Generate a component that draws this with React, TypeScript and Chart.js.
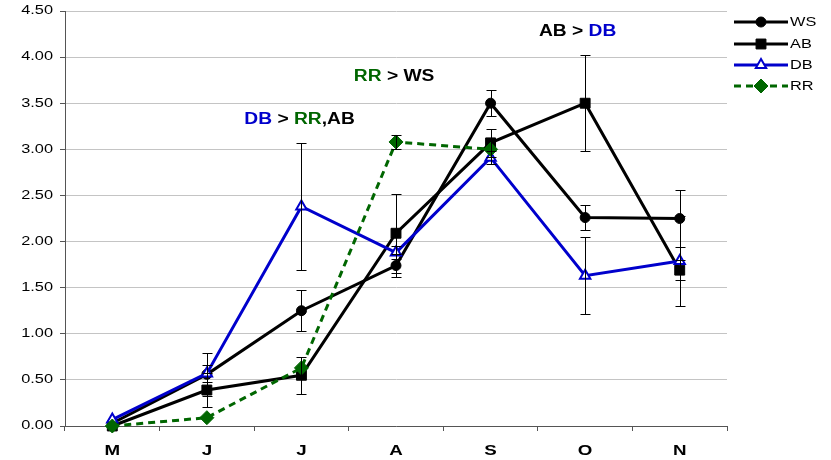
import { useEffect, useRef } from 'react';
import { Chart, registerables } from 'chart.js';
import { drawPoint } from 'chart.js/helpers';

Chart.register(...registerables);

// Sampling months
const months = ['M', 'J', 'J', 'A', 'S', 'O', 'N'];

// Series means and symmetric error bar half-widths
const wsMean = [0.03, 0.56, 1.25, 1.74, 3.5, 2.26, 2.25];
const wsErr = [0, 0.23, 0.22, 0.12, 0.14, 0.14, 0.31];
const abMean = [0.0, 0.39, 0.55, 2.09, 3.07, 3.5, 1.69];
const abErr = [0, 0.18, 0.2, 0.43, 0.15, 0.52, 0.11];
const dbMean = [0.07, 0.57, 2.38, 1.88, 2.91, 1.63, 1.79];
const dbErr = [0, 0.09, 0.69, 0.07, 0.07, 0.42, 0.49];
const rrMean = [0.0, 0.09, 0.63, 3.08, 3.0, null, null];
const rrErr = [0, 0, 0, 0.08, 0, 0, 0];

const seriesNames = ['WS', 'AB', 'DB', 'RR'];

const BLACK = '#000000';
const BLUE = '#0000CC';
const GREEN = '#006600';

// Pairwise comparison notes: anchor (category index, value) and coloured pieces
const noteAnchors: [number, number][] = [
  [1.98, 3.32],
  [2.98, 3.79],
  [4.92, 4.28],
];
const noteParts: [string, string][][] = [
  [['DB', BLUE], [' > ', BLACK], ['RR', GREEN], [',AB', BLACK]],
  [['RR', GREEN], [' > ', BLACK], ['WS', BLACK]],
  [['AB', BLACK], [' > ', BLACK], ['DB', BLUE]],
];

const FONT = '"Liberation Sans", Arial, sans-serif';
const WIDE_REG = 1.36;
const WIDE_BOLD = 1.25;

function drawWide(
  ctx: CanvasRenderingContext2D,
  text: string,
  x: number,
  y: number,
  sx: number,
  align: CanvasTextAlign,
) {
  ctx.save();
  ctx.translate(x, y);
  ctx.scale(sx, 1);
  ctx.textAlign = align;
  ctx.textBaseline = 'middle';
  ctx.fillText(text, 0, 0);
  ctx.restore();
}

const errorsBySeries = [wsErr, abErr, dbErr, rrErr];

const errorBars = {
  id: 'errorBars',
  afterDatasetsDraw(chart: any) {
    const { ctx } = chart;
    const xs = chart.scales.x;
    const ys = chart.scales.y;
    ctx.save();
    ctx.strokeStyle = BLACK;
    ctx.lineWidth = 1;
    chart.data.datasets.forEach((ds: any, di: number) => {
      const errs = errorsBySeries[di];
      ds.data.forEach((v: number | null, i: number) => {
        const e = errs[i];
        if (v === null || !e) return;
        const x = Math.round(xs.getPixelForValue(i)) + 0.5;
        const yt = Math.round(ys.getPixelForValue(v + e)) + 0.5;
        const yb = Math.round(ys.getPixelForValue(v - e)) + 0.5;
        ctx.beginPath();
        ctx.moveTo(x, yt);
        ctx.lineTo(x, yb);
        ctx.moveTo(x - 5, yt);
        ctx.lineTo(x + 5, yt);
        ctx.moveTo(x - 5, yb);
        ctx.lineTo(x + 5, yb);
        ctx.stroke();
      });
    });
    ctx.restore();
  },
};

const textLayer = {
  id: 'textLayer',
  afterDraw(chart: any) {
    const { ctx, chartArea } = chart;
    const xs = chart.scales.x;
    const ys = chart.scales.y;
    ctx.save();

    // value axis labels
    ctx.fillStyle = '#000';
    ctx.font = `12px ${FONT}`;
    ys.ticks.forEach((t: any) => {
      drawWide(ctx, Number(t.value).toFixed(2), chartArea.left - 12, ys.getPixelForValue(t.value), WIDE_REG, 'right');
    });

    // month labels
    ctx.font = `bold 15px ${FONT}`;
    months.forEach((m, i) => {
      drawWide(ctx, m, xs.getPixelForValue(i), chartArea.bottom + 25, WIDE_BOLD, 'center');
    });

    // comparison notes
    ctx.font = `bold 16px ${FONT}`;
    noteParts.forEach((parts, n) => {
      const [ci, val] = noteAnchors[n];
      const cx = xs.getPixelForValue(ci);
      const cy = ys.getPixelForValue(val);
      const widths = parts.map(([s]) => ctx.measureText(s).width * 1.2);
      const total = widths.reduce((a, b) => a + b, 0);
      let x = cx - total / 2;
      parts.forEach(([s, c], k) => {
        ctx.fillStyle = c;
        drawWide(ctx, s, x, cy, 1.2, 'left');
        x += widths[k];
      });
    });

    // legend
    const lx0 = chartArea.right + 7;
    const lx1 = chartArea.right + 61;
    const rows = [22, 44, 65, 86];
    chart.data.datasets.forEach((ds: any, i: number) => {
      const y = rows[i];
      ctx.save();
      ctx.strokeStyle = ds.borderColor;
      ctx.lineWidth = 3;
      ctx.setLineDash(ds.borderDash || []);
      ctx.beginPath();
      ctx.moveTo(lx0, y);
      ctx.lineTo(lx1, y);
      ctx.stroke();
      ctx.restore();
      ctx.save();
      ctx.fillStyle = ds.pointBackgroundColor;
      ctx.strokeStyle = ds.pointBorderColor;
      ctx.lineWidth = ds.pointBorderWidth;
      drawPoint(
        ctx,
        { pointStyle: ds.pointStyle, radius: ds.pointRadius, rotation: 0, borderWidth: ds.pointBorderWidth },
        (lx0 + lx1) / 2,
        y,
      );
      ctx.restore();
      ctx.fillStyle = '#000';
      ctx.font = `12px ${FONT}`;
      drawWide(ctx, seriesNames[i], lx1 + 2, y + 1, WIDE_REG, 'left');
    });

    ctx.restore();
  },
};

export default function App() {
  const ref = useRef<HTMLCanvasElement | null>(null);

  useEffect(() => {
    document.body.style.margin = '0';
    const canvas = ref.current;
    if (!canvas) return;
    const chart = new Chart(canvas, {
      type: 'line',
      data: {
        labels: months,
        datasets: [
          {
            label: seriesNames[0],
            data: wsMean,
            borderColor: BLACK,
            borderWidth: 3,
            pointStyle: 'circle',
            pointRadius: 5,
            pointBackgroundColor: BLACK,
            pointBorderColor: BLACK,
            pointBorderWidth: 1,
            order: 4,
            clip: false,
          },
          {
            label: seriesNames[1],
            data: abMean,
            borderColor: BLACK,
            borderWidth: 3,
            pointStyle: 'rect',
            pointRadius: 7,
            pointBackgroundColor: BLACK,
            pointBorderColor: BLACK,
            pointBorderWidth: 1,
            order: 3,
            clip: false,
          },
          {
            label: seriesNames[2],
            data: dbMean,
            borderColor: BLUE,
            borderWidth: 3,
            pointStyle: 'triangle',
            pointRadius: 6,
            pointBackgroundColor: '#ffffff',
            pointBorderColor: BLUE,
            pointBorderWidth: 2,
            order: 2,
            clip: false,
          },
          {
            label: seriesNames[3],
            data: rrMean,
            borderColor: GREEN,
            borderWidth: 3,
            borderDash: [7, 5],
            pointStyle: 'rectRot',
            pointRadius: 7,
            pointBackgroundColor: GREEN,
            pointBorderColor: GREEN,
            pointBorderWidth: 1,
            order: 1,
            clip: false,
            spanGaps: false,
          },
        ] as any,
      },
      options: {
        animation: false,
        responsive: false,
        devicePixelRatio: 1,
        layout: { autoPadding: false, padding: { left: 0, top: 11, right: 104, bottom: 0 } },
        elements: { line: { tension: 0 } },
        plugins: { legend: { display: false }, tooltip: { enabled: false } },
        scales: {
          x: {
            type: 'category',
            offset: true,
            grid: {
              offset: true,
              drawOnChartArea: false,
              drawTicks: true,
              tickLength: 5,
              color: '#555555',
            },
            border: { color: '#555555', width: 1 },
            ticks: { display: false },
            afterFit: (s: any) => {
              s.height = 34;
            },
          },
          y: {
            min: 0,
            max: 4.5,
            ticks: { display: false, stepSize: 0.5 },
            grid: {
              color: '#c4c4c4',
              tickColor: '#555555',
              drawTicks: true,
              tickLength: 5,
            },
            border: { color: '#555555', width: 1 },
            afterFit: (s: any) => {
              s.width = 65;
            },
          },
        },
      } as any,
      plugins: [errorBars, textLayer],
    });
    return () => chart.destroy();
  }, []);

  return (
    <div style={{ position: 'absolute', left: 0, top: 0, width: 831, height: 460, background: '#fff' }}>
      <canvas ref={ref} width={831} height={460} />
    </div>
  );
}
